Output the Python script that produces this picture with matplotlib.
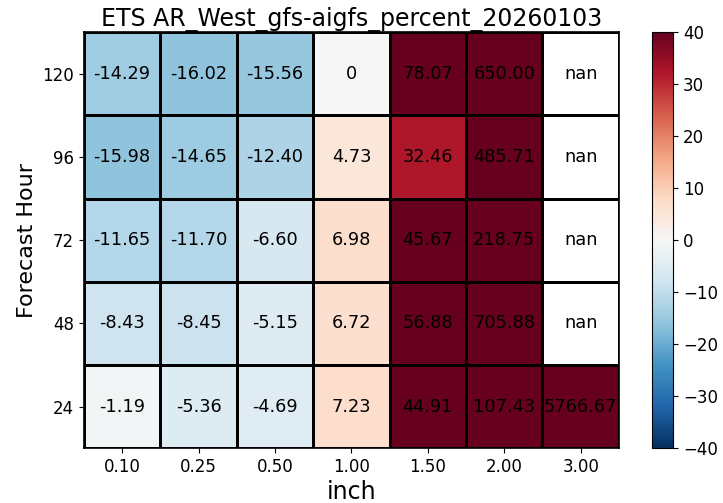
import numpy as np
import matplotlib
matplotlib.use('Agg')
import matplotlib.pyplot as plt

thresholds = ['0.10', '0.25', '0.50', '1.00', '1.50', '2.00', '3.00']
fhours = ['24', '48', '72', '96', '120']

# percent change, one row per forecast hour (24 at the bottom)
pct_24 = [-1.19, -5.36, -4.69, 7.23, 44.91, 107.43, 5766.67]
pct_48 = [-8.43, -8.45, -5.15, 6.72, 56.88, 705.88, np.nan]
pct_72 = [-11.65, -11.70, -6.60, 6.98, 45.67, 218.75, np.nan]
pct_96 = [-15.98, -14.65, -12.40, 4.73, 32.46, 485.71, np.nan]
pct_120 = [-14.29, -16.02, -15.56, 0.0, 78.07, 650.00, np.nan]


def label(v):
    if np.isnan(v):
        return 'nan'
    if v == 0:
        return '0'
    return '%.2f' % v


def heatmap_percent():
    data = np.array([pct_24, pct_48, pct_72, pct_96, pct_120])
    cmap = plt.get_cmap('RdBu_r').copy()
    cmap.set_bad('white')

    fig = plt.figure(figsize=(7.23, 5.03), dpi=100)
    ax = fig.add_axes([0.116, 0.109, 0.740, 0.827])
    cax = fig.add_axes([0.902, 0.109, 0.029, 0.827])

    mesh = ax.pcolormesh(np.ma.masked_invalid(data), cmap=cmap, vmin=-40, vmax=40,
                         edgecolors='black', linewidth=1.0)
    for i in range(data.shape[0]):
        for j in range(data.shape[1]):
            ax.text(j + 0.5, i + 0.5, label(data[i, j]), ha='center', va='center',
                    fontsize=12.8, color='black')

    ax.set_xticks(np.arange(len(thresholds)) + 0.5)
    ax.set_xticklabels(thresholds, fontsize=12)
    ax.set_yticks(np.arange(len(fhours)) + 0.5)
    ax.set_yticklabels(fhours, fontsize=12)
    ax.set_xlabel('inch', fontsize=17, labelpad=3)
    ax.set_ylabel('Forecast Hour', fontsize=16)
    ax.set_title('ETS AR_West_gfs-aigfs_percent_20260103', fontsize=17, pad=4)
    for s in ax.spines.values():
        s.set_linewidth(1.2)

    cb = fig.colorbar(mesh, cax=cax)
    cb.set_ticks(np.arange(-40, 41, 10))
    cb.ax.tick_params(labelsize=12)

    fig.savefig('out.png', dpi=100)


if __name__ == '__main__':
    heatmap_percent()
